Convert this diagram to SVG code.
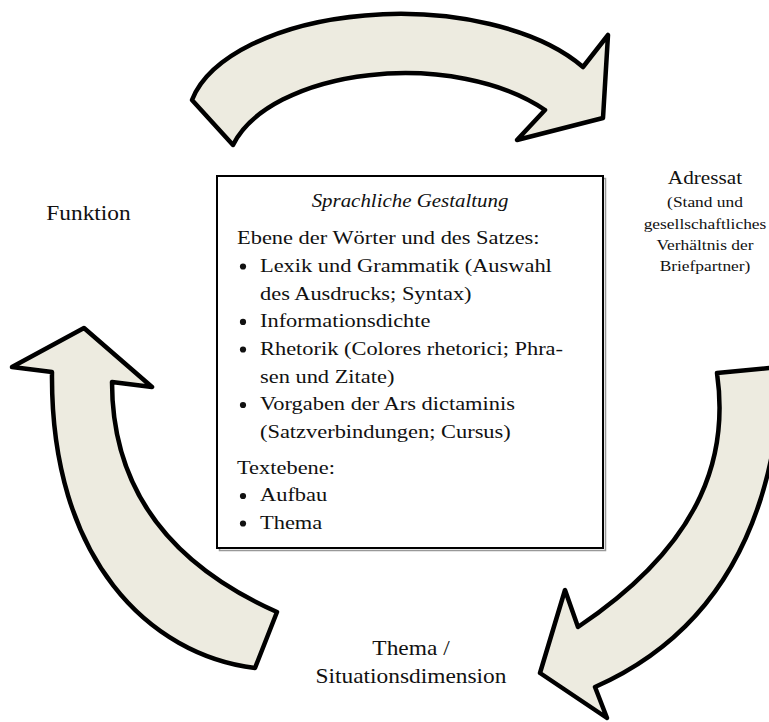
<svg xmlns="http://www.w3.org/2000/svg" width="769" height="722" viewBox="0 0 769 722">
<style>
.arrow{fill:#EDEBE0;stroke:#000;stroke-width:4.5;stroke-linejoin:round}
.t{font-family:"Liberation Serif","Times New Roman",serif;fill:#111}
.body{font-size:19px}
.lab{font-size:20px}
.sub{font-size:15px}
.bul{fill:#111}
</style>
<rect width="769" height="722" fill="#fff"/>
<g id="connectors">
<path id="arrow-top" class="arrow" d="M192,100 A212,107 0 0 1 583,67 L608,35 L603,118 L517,140 L545,110 A178,96.5 0 0 0 233,145 Z"/>
<path id="arrow-right" class="arrow" d="M717,373 C728,450 708,540 578,627 L565,590 L540,673 L607,718 L595,687 C690,645 765,560 780,400 L790,366 Z"/>
<path id="arrow-left" class="arrow" d="M84,328 L152,387 L112,382 C112,480 160,560 277,612 L255,668 C150,655 50,560 52,372 L12,367 Z"/>
</g>
<g id="node-box">
<rect x="219.5" y="178.5" width="386" height="372" fill="none" stroke="#999" stroke-width="1.5"/>
<rect x="217" y="176" width="386" height="372" fill="#fff" stroke="#000" stroke-width="2"/>
<text class="t body" font-style="italic" text-anchor="middle" transform="translate(410,207) scale(1.1,1)">Sprachliche Gestaltung</text>
<g class="t body" transform="translate(237,0) scale(1.18,1)">
<text x="0" y="244">Ebene der Wörter und des Satzes:</text>
<text x="19.5" y="272">Lexik und Grammatik (Auswahl</text>
<text x="19.5" y="299.7">des Ausdrucks; Syntax)</text>
<text x="19.5" y="327.4">Informationsdichte</text>
<text x="19.5" y="355">Rhetorik (Colores rhetorici; Phra-</text>
<text x="19.5" y="382.8">sen und Zitate)</text>
<text x="19.5" y="410.5">Vorgaben der Ars dictaminis</text>
<text x="19.5" y="438.2">(Satzverbindungen; Cursus)</text>
<text x="0" y="474">Textebene:</text>
<text x="19.5" y="501.5">Aufbau</text>
<text x="19.5" y="529">Thema</text>
</g>
<circle class="bul" cx="243" cy="266.5" r="3.1"/>
<circle class="bul" cx="243" cy="321.9" r="3.1"/>
<circle class="bul" cx="243" cy="349.5" r="3.1"/>
<circle class="bul" cx="243" cy="405" r="3.1"/>
<circle class="bul" cx="243" cy="496" r="3.1"/>
<circle class="bul" cx="243" cy="523.5" r="3.1"/>
</g>
<g id="node-funktion">
<text class="t lab" text-anchor="middle" transform="translate(88.5,220) scale(1.17,1)">Funktion</text>
</g>
<g id="node-adressat">
<text class="t" font-size="18" text-anchor="middle" transform="translate(705,184) scale(1.18,1)">Adressat</text>
<text class="t sub" text-anchor="middle" transform="translate(705,207) scale(1.16,1)">(Stand und</text>
<text class="t sub" text-anchor="middle" transform="translate(705,229) scale(1.16,1)">gesellschaftliches</text>
<text class="t sub" text-anchor="middle" transform="translate(705,250) scale(1.16,1)">Verhältnis der</text>
<text class="t sub" text-anchor="middle" transform="translate(705,271) scale(1.16,1)">Briefpartner)</text>
</g>
<g id="node-thema">
<text class="t lab" text-anchor="middle" transform="translate(411,655) scale(1.17,1)">Thema /</text>
<text class="t lab" text-anchor="middle" transform="translate(411,683) scale(1.17,1)">Situationsdimension</text>
</g>
</svg>
